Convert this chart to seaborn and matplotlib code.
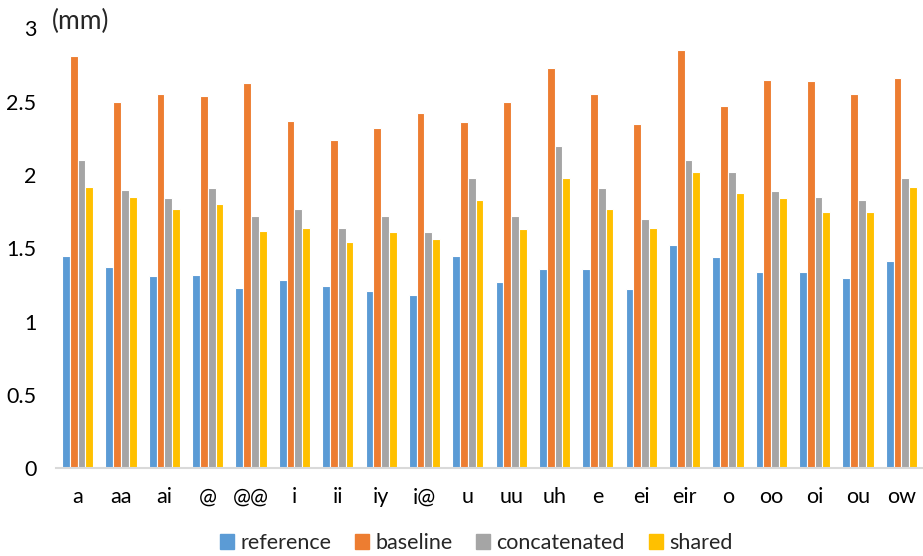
import matplotlib
matplotlib.use("Agg")
import matplotlib.pyplot as plt
import seaborn as sns
import pandas as pd

# Vowel categories and per-system distances (mm)
vowels = ["a", "aa", "ai", "@", "@@", "i", "ii", "iy", "i@", "u",
          "uu", "uh", "e", "ei", "eir", "o", "oo", "oi", "ou", "ow"]
reference = [1.45, 1.37, 1.31, 1.32, 1.23, 1.28, 1.24, 1.21, 1.18, 1.45,
             1.27, 1.36, 1.36, 1.22, 1.52, 1.44, 1.34, 1.34, 1.30, 1.41]
baseline = [2.81, 2.50, 2.55, 2.54, 2.63, 2.37, 2.24, 2.32, 2.42, 2.36,
            2.50, 2.73, 2.55, 2.35, 2.85, 2.47, 2.65, 2.64, 2.55, 2.66]
concatenated = [2.10, 1.90, 1.84, 1.91, 1.72, 1.77, 1.64, 1.72, 1.61, 1.98,
                1.72, 2.20, 1.91, 1.70, 2.10, 2.02, 1.89, 1.85, 1.83, 1.98]
shared = [1.92, 1.85, 1.77, 1.80, 1.62, 1.64, 1.54, 1.61, 1.56, 1.83,
          1.63, 1.98, 1.77, 1.64, 2.02, 1.88, 1.84, 1.75, 1.75, 1.92]

series_names = ["reference", "baseline", "concatenated", "shared"]
colors = ["#5B9BD5", "#ED7D31", "#A5A5A5", "#FFC000"]

df = pd.DataFrame({
    "vowel": vowels * 4,
    "system": sum([[n] * len(vowels) for n in series_names], []),
    "value": reference + baseline + concatenated + shared,
})

sns.set_theme(style="white")
plt.rcParams["font.family"] = ["Lato", "DejaVu Sans"]

fig = plt.figure(figsize=(9.23, 5.56), dpi=100)
ax = fig.add_axes([56 / 923, 88 / 556, 867 / 923, 439.5 / 556])

sns.barplot(data=df, x="vowel", y="value", hue="system", order=vowels,
            hue_order=series_names, palette=colors, width=0.72,
            edgecolor="white", linewidth=0.8, saturation=1, ax=ax)

ax.set_ylim(0, 3)
ax.set_yticks([0, 0.5, 1, 1.5, 2, 2.5, 3])
ax.set_yticklabels(["0", "0.5", "1", "1.5", "2", "2.5", "3"])
ax.set_xlabel("")
ax.set_ylabel("")
ax.tick_params(axis="y", length=0, pad=14, labelsize=15.5, colors="#000000")
ax.tick_params(axis="x", length=0, pad=14, labelsize=15.5, colors="#000000")

for side in ["top", "right", "left"]:
    ax.spines[side].set_visible(False)
ax.spines["bottom"].set_color("#D9D9D9")
ax.spines["bottom"].set_linewidth(1.5)

fig.text(52 / 923, 1 - 21 / 556, "(mm)", fontsize=19, va="center", ha="left")

ax.legend_.remove()
handles = [plt.Rectangle((0, 0), 1, 1, color=c) for c in colors]
fig.legend(handles, series_names, loc="center", bbox_to_anchor=(476 / 923, 1 - 543 / 556),
           ncol=4, frameon=False, fontsize=15.5, handlelength=0.65, handleheight=0.65,
           handletextpad=0.3, columnspacing=1.1)

fig.savefig("out.png", dpi=100)
